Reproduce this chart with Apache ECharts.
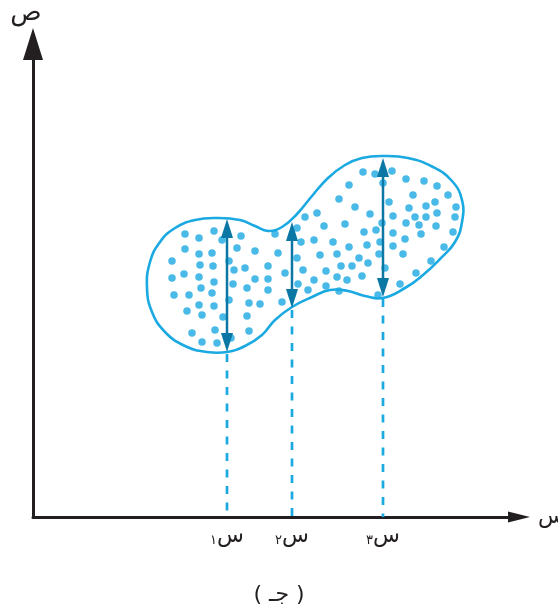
<!DOCTYPE html>
<html>
<head>
<meta charset="utf-8">
<script src="https://cdn.jsdelivr.net/npm/echarts@6/dist/echarts.min.js"></script>
<style>
  html, body { margin: 0; padding: 0; background: #ffffff; }
  #chart { width: 558px; height: 611px; }
</style>
</head>
<body>
<div id="chart"></div>
<script>
// Observations (x, y) of the scatter cloud, in axis units from the origin.
const dots = [
  [152,283],[166,279],[181,286],[189,277],[208,281],
  [152,268],[166,263],[179,264],[196,256],[204,269],[222,266],
  [139,256],[167,252],[180,251],[201,247],[212,249],[235,251],
  [139,239],[151,243],[166,240],[181,235],[200,233],[222,238],[235,238],
  [168,229],[214,229],[235,227],
  [141,222],[156,222],[179,224],[196,217],
  [166,212],[181,211],[216,214],[227,213],[249,215],
  [154,206],[169,202],[190,200],[214,201],
  [182,187],[159,184],[216,186],[198,179],
  [169,175],[184,174],
  [306,318],[322,310],[284,304],[272,300],[264,289],[291,291],[312,293],
  [331,285],[343,287],[349,294],[337,303],
  [242,283],[268,275],[281,277],[300,275],[316,270],[334,272],[347,275],
  [245,264],[264,259],[287,262],[304,263],[326,259],[335,254],
  [252,244],[270,247],[293,246],[308,251],[319,251],[329,241],[304,240],
  [314,237],[281,237],[265,233],[293,231],[275,227],[306,226],
  [330,345],[342,343],[359,346],[350,334],[316,332],[373,338],[391,336],
  [404,331],[415,322],[380,322],[356,315],[423,310],[376,309],[393,311],
  [402,315],[360,301],[382,300],[393,300],[404,304],[422,300],
  [373,294],[386,292],[403,291],[360,284],[388,283],[420,285],
  [372,278],[360,271],[411,270],[370,263],[346,263],[398,256],
  [352,249],[383,244],[367,233],[345,222]
];

// Boundary of the cloud, traced clockwise.
const outline = [
  [114,229],[117,255],[127,275],[142,289],[162,297],[184,299],[207,297],
  [222,291],[235,286],[249,290],[264,303],[279,321],[295,339],[312,352],
  [329,359],[350,361],[375,359],[400,350],[419,336],[429,317],[429,295],
  [422,275],[407,258],[390,242],[372,229],[350,219],[332,221],[315,226],
  [297,227],[279,220],[259,210],[242,197],[229,182],[212,171],[194,165],
  [174,165],[152,171],[132,185],[119,205]
];

// The three chosen x values and the spread of y above each one.
const sampleX = [194, 259, 350];
const spreadTop = [298, 295, 359];
const spreadBottom = [165, 209, 220];
const subscripts = ['\u0661', '\u0662', '\u0663'];

const xName = 'س';
const yName = 'ص';
const caption = '( جـ )';

const CYAN = '#1ba9e1';
const DEEP = '#0a77a5';
const INK = '#231f20';
const FONT = "'DejaVu Sans', sans-serif";

const chart = echarts.init(document.getElementById('chart'), null, { renderer: 'canvas' });

chart.setOption({
  animation: false,
  backgroundColor: '#ffffff',
  title: {
    text: caption,
    left: 'center',
    top: 579,
    textStyle: { fontSize: 22, fontWeight: 'normal', color: INK, fontFamily: FONT }
  },
  grid: { left: 33, right: 39, top: 44, bottom: 94, containLabel: false, outerBoundsMode: 'none' },
  xAxis: {
    type: 'value',
    min: 0,
    max: 486,
    splitLine: { show: false },
    axisTick: { show: false },
    axisLine: {
      onZero: false,
      lineStyle: { color: INK, width: 3 },
      symbol: ['none', 'triangle'],
      symbolSize: [11, 22]
    },
    name: xName,
    nameLocation: 'end',
    nameGap: 19,
    nameTextStyle: { fontSize: 22, color: INK, fontFamily: FONT, align: 'left', verticalAlign: 'middle' },
    axisLabel: {
      customValues: sampleX,
      margin: 8,
      formatter: function (v) {
        const i = sampleX.indexOf(v);
        return '{n|' + subscripts[i] + '}{s|س}';
      },
      rich: {
        s: { fontSize: 22, color: INK, fontFamily: FONT },
        n: { fontSize: 13, color: INK, fontFamily: FONT, verticalAlign: 'bottom' }
      }
    }
  },
  yAxis: {
    type: 'value',
    min: 0,
    max: 473,
    splitLine: { show: false },
    axisTick: { show: false },
    axisLabel: { show: false },
    axisLine: {
      onZero: false,
      lineStyle: { color: INK, width: 3 },
      symbol: ['none', 'triangle'],
      symbolSize: [20, 32]
    },
    name: yName,
    nameLocation: 'end',
    nameGap: 18,
    nameTextStyle: { fontSize: 26, color: INK, fontFamily: FONT, padding: [0, 14, 0, 0] }
  },
  series: [
    {
      // closed boundary of the cloud
      type: 'custom',
      data: [[0, 0]],
      z: 2,
      renderItem: function (params, api) {
        return {
          type: 'polygon',
          shape: { points: outline.map(function (p) { return api.coord(p); }), smooth: 0.45 },
          style: { fill: 'none', stroke: CYAN, lineWidth: 2.6 }
        };
      }
    },
    {
      type: 'scatter',
      data: dots,
      z: 3,
      symbol: 'circle',
      symbolSize: 7.5,
      itemStyle: { color: CYAN }
    },
    {
      // vertical spread arrows with dashed drop lines to the axis
      type: 'custom',
      z: 4,
      data: sampleX.map(function (x, i) { return [x, spreadBottom[i], spreadTop[i]]; }),
      renderItem: function (params, api) {
        const x = api.value(0);
        const top = api.coord([x, api.value(2)]);
        const bot = api.coord([x, api.value(1)]);
        const base = api.coord([x, 0]);
        const L = 19, W = 6;
        return {
          type: 'group',
          children: [
            {
              type: 'line',
              shape: { x1: bot[0], y1: bot[1] + 2, x2: base[0], y2: base[1] },
              style: { stroke: CYAN, lineWidth: 2.7, lineDash: [8, 8.5] }
            },
            {
              type: 'line',
              shape: { x1: top[0], y1: top[1] + L - 2, x2: bot[0], y2: bot[1] - L + 2 },
              style: { stroke: DEEP, lineWidth: 2.5 }
            },
            {
              type: 'polygon',
              shape: { points: [[top[0], top[1]], [top[0] - W, top[1] + L], [top[0] + W, top[1] + L]] },
              style: { fill: DEEP }
            },
            {
              type: 'polygon',
              shape: { points: [[bot[0], bot[1]], [bot[0] - W, bot[1] - L], [bot[0] + W, bot[1] - L]] },
              style: { fill: DEEP }
            }
          ]
        };
      }
    }
  ]
});
</script>
</body>
</html>
